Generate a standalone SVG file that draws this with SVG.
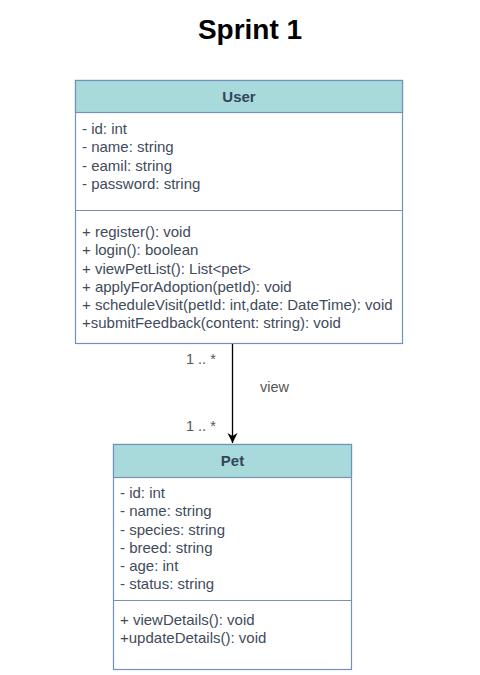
<svg xmlns="http://www.w3.org/2000/svg" width="480" height="675" viewBox="0 0 480 675">
<defs>
<style>
.box{fill:#ffffff;stroke:#6f93bd;stroke-width:1.2}
.hdr{fill:#a9dadb;stroke:#6f93bd;stroke-width:1.2}
.div{stroke:#6f93bd;stroke-width:1.2}
.t{font-family:"Liberation Sans",Arial,sans-serif;font-size:15px;fill:#414b5a}
.h{font-family:"Liberation Sans",Arial,sans-serif;font-size:15px;font-weight:bold;fill:#34455a;text-anchor:middle}
.lbl{font-family:"Liberation Sans",Arial,sans-serif;font-size:14.5px;fill:#555555}
.title{font-family:"Liberation Sans",Arial,sans-serif;font-size:28px;font-weight:bold;fill:#000;text-anchor:middle}
</style>
<marker id="arr" markerWidth="12" markerHeight="12" refX="10" refY="6" orient="auto" markerUnits="userSpaceOnUse">
<path d="M0,1 L10,6 L0,11 L3,6 Z" fill="#000"/>
</marker>
</defs>
<rect width="480" height="675" fill="#ffffff"/>
<text class="title" x="250" y="39">Sprint 1</text>

<g id="User">
<rect class="box" x="75.5" y="80.5" width="327" height="263"/>
<rect class="hdr" x="75.5" y="80.5" width="327" height="32"/>
<line class="div" x1="75.5" y1="210.5" x2="402.5" y2="210.5"/>
<text class="h" x="239" y="102">User</text>
<text class="t" x="82" y="134">- id: int</text>
<text class="t" x="82" y="152">- name: string</text>
<text class="t" x="82" y="170.5">- eamil: string</text>
<text class="t" x="82" y="188.5">- password: string</text>
<text class="t" x="82" y="237">+ register(): void</text>
<text class="t" x="82" y="255">+ login(): boolean</text>
<text class="t" x="82" y="273.5">+ viewPetList(): List&lt;pet&gt;</text>
<text class="t" x="82" y="292">+ applyForAdoption(petId): void</text>
<text class="t" x="82" y="310">+ scheduleVisit(petId: int,date: DateTime): void</text>
<text class="t" x="82" y="328">+submitFeedback(content: string): void</text>
</g>

<g id="Pet">
<rect class="box" x="113.5" y="444.5" width="238" height="225"/>
<rect class="hdr" x="113.5" y="444.5" width="238" height="33"/>
<line class="div" x1="113.5" y1="600.5" x2="351.5" y2="600.5"/>
<text class="h" x="232.5" y="466">Pet</text>
<text class="t" x="120" y="498">- id: int</text>
<text class="t" x="120" y="516">- name: string</text>
<text class="t" x="120" y="534.5">- species: string</text>
<text class="t" x="120" y="552.5">- breed: string</text>
<text class="t" x="120" y="571">- age: int</text>
<text class="t" x="120" y="589">- status: string</text>
<text class="t" x="120" y="625">+ viewDetails(): void</text>
<text class="t" x="120" y="643">+updateDetails(): void</text>
</g>

<g id="connectors">
<line x1="232.5" y1="344" x2="232.5" y2="443" stroke="#000" stroke-width="1.3" marker-end="url(#arr)"/>
<text class="lbl" x="186" y="364">1 .. *</text>
<text class="lbl" x="260" y="392">view</text>
<text class="lbl" x="186" y="431">1 .. *</text>
</g>
</svg>
